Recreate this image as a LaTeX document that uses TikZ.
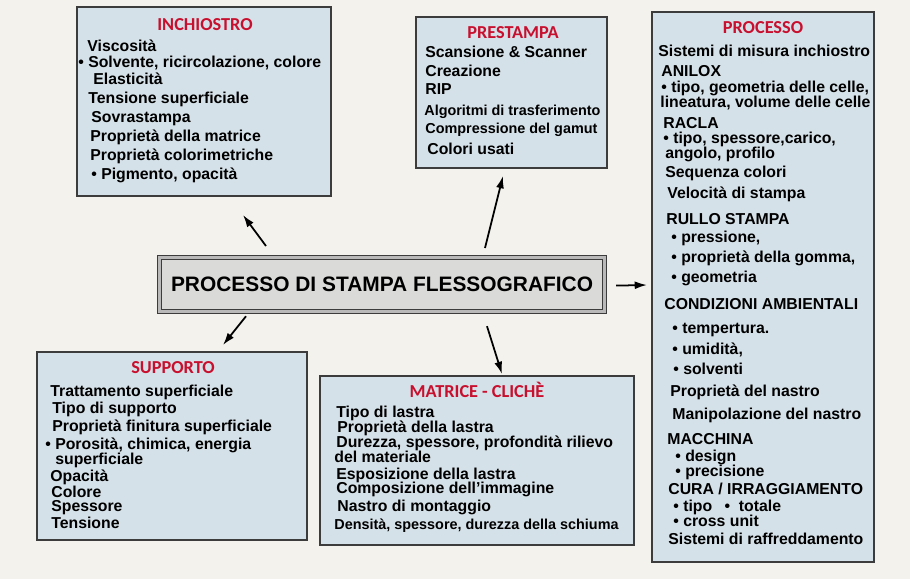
\documentclass[tikz,border=0pt]{standalone}
\usepackage{fontspec}
\setmainfont{Liberation Sans}
\newfontfamily\headfont{Carlito}
\usetikzlibrary{arrows.meta, calc}
\definecolor{bg}{RGB}{243,242,236}
\definecolor{pan}{RGB}{213,225,232}
\definecolor{edge}{HTML}{3C3C3C}
\definecolor{hd}{RGB}{200,16,46}
\definecolor{ttl}{RGB}{218,218,216}
\newcommand{\sm}{\fontsize{8.2}{10}\selectfont}

\begin{document}
\begin{tikzpicture}[x=0.02cm, y=-0.02cm,
    panel/.style={draw=edge, line width=0.8pt, fill=pan, anchor=north west, inner sep=0pt, outer sep=0pt},
    heading/.style={text=hd, font={\headfont\bfseries\fontsize{10.4}{12}\selectfont}, inner sep=0pt, text height=6.7pt, text depth=0pt},
    item/.style={anchor=west, inner sep=0pt, font={\bfseries\fontsize{9}{10}\selectfont}, text height=6.3pt, text depth=1.5pt},
    arr/.style={-{Latex[length=7pt,width=4.5pt]}, line width=1pt, black}]
			\useasboundingbox (0,0) rectangle (910,579);
			\fill[bg] (0,0) rectangle (910,579);

			% Panels
			\node[panel, minimum width=5.08cm, minimum height=3.78cm] (inchiostro) at (77,7) {};
			\node[panel, minimum width=3.82cm, minimum height=3.02cm] (prestampa) at (416,17) {};
			\node[panel, minimum width=4.44cm, minimum height=11.0cm] (processo) at (652,12) {};
			\node[panel, minimum width=5.40cm, minimum height=3.76cm] (supporto) at (37,352) {};
			\node[panel, minimum width=6.28cm, minimum height=3.38cm] (matrice) at (320,376) {};

			% Central box
			\node[anchor=north west, fill=ttl, draw=edge, line width=0.7pt, double=gray!55, double distance=1.4pt,
			  minimum width=8.9cm, minimum height=1.08cm, inner sep=0pt,
			  font={\bfseries\fontsize{11.9}{14}\selectfont}] (title) at (159,257) {PROCESSO DI STAMPA FLESSOGRAFICO};

			% Headings
			\node[heading] (inchiostro-h) at (205,25) {INCHIOSTRO};
			\node[heading] (prestampa-h) at (513,33) {PRESTAMPA};
			\node[heading] (processo-h) at (763,28) {PROCESSO};
			\node[heading] (supporto-h) at (173,368) {SUPPORTO};
			\node[heading] (matrice-h) at (477,392) {MATRICE - CLICHÈ};

			% Inchiostro
			\foreach \x/\y/\t [count=\i] in {87/47/{Viscosità}, 78/63/{• Solvente, ricircolazione, colore},
			  93/80/{Elasticità}, 88/99/{Tensione superficiale}, 91/118/{Sovrastampa},
			  90/137/{Proprietà della matrice}, 90/156/{Proprietà colorimetriche}, 91/175/{• Pigmento, opacità}}
			  \node[item] (inc\i) at (\x,\y) {\t};

			% Prestampa
			\foreach \x/\y/\t [count=\i] in {425/53/{Scansione \& Scanner}, 425/72/{Creazione}, 425/90/{RIP},
			  424/111/{\sm Algoritmi di trasferimento}, 425/129/{\sm Compressione del gamut}, 427/150/{Colori usati}}
			  \node[item] (pre\i) at (\x,\y) {\t};

			% Processo
			\foreach \x/\y/\t [count=\i] in {658/52/{Sistemi di misura inchiostro}, 661/72/{ANILOX},
			  661/88/{• tipo, geometria delle celle,}, 660/103/{lineatura, volume delle celle},
			  663/124/{RACLA}, 663/139/{• tipo, spessore,carico,}, 665/154/{angolo, profilo},
			  665/173/{Sequenza colori}, 667/194/{Velocità di stampa}, 666/220/{RULLO STAMPA},
			  671/238/{• pressione,}, 671/258/{• proprietà della gomma,}, 671/278/{• geometria},
			  664/305/{CONDIZIONI AMBIENTALI}, 672/329/{• tempertura.}, 672/350/{• umidità,},
			  673/370/{• solventi}, 670/392/{Proprietà del nastro}, 672/415/{Manipolazione del nastro},
			  667/440/{MACCHINA}, 675/457/{• design}, 675/472/{• precisione},
			  668/490/{CURA / IRRAGGIAMENTO}, 673/507/{• tipo\hspace{7pt}•\hspace{5pt}totale},
			  673/522/{• cross unit}, 668/540/{Sistemi di raffreddamento}}
			  \node[item] (pro\i) at (\x,\y) {\t};

			% Supporto
			\foreach \x/\y/\t [count=\i] in {50/392/{Trattamento superficiale}, 52/409/{Tipo di supporto},
			  52/427/{Proprietà finitura superficiale}, 45/445/{• Porosità, chimica, energia},
			  55/460/{superficiale}, 50/477/{Opacità}, 51/493/{Colore}, 51/507/{Spessore}, 51/524/{Tensione}}
			  \node[item] (sup\i) at (\x,\y) {\t};

			% Matrice
			\foreach \x/\y/\t [count=\i] in {336/413/{Tipo di lastra}, 337/428/{Proprietà della lastra},
			  336/443/{Durezza, spessore, profondità rilievo}, 334/458/{del materiale},
			  336/475/{Esposizione della lastra}, 336/489/{Composizione dell’immagine},
			  337/507/{Nastro di montaggio}, 334/525/{\sm Densità, spessore, durezza della schiuma}}
			  \node[item] (mat\i) at (\x,\y) {\t};

			% Arrows
			\coordinate (inc-a) at ($(title.north west)+(107,-11)$);
			\coordinate (inc-b) at ($(inchiostro.south west)+(166,19)$);
			\coordinate (pre-a) at ($(title.north west)+(326,-9)$);
			\coordinate (pre-b) at ($(prestampa.south west)+(87,8)$);
			\coordinate (pro-a) at ($(title.east)+(11,1)$);
			\coordinate (pro-b) at ($(processo.north west)+(-5,273)$);
			\coordinate (sup-a) at ($(title.south west)+(87,4)$);
			\coordinate (sup-b) at ($(supporto.north west)+(186,-7)$);
			\coordinate (mat-a) at ($(title.south west)+(328,14)$);
			\coordinate (mat-b) at ($(matrice.north west)+(182,-2)$);
			\draw[arr] (inc-a) -- (inc-b);
			\draw[arr] (pre-a) -- (pre-b);
			\draw[arr] (pro-a) -- (pro-b);
			\draw[arr] (sup-a) -- (sup-b);
			\draw[arr] (mat-a) -- (mat-b);
		\end{tikzpicture}
\end{document}
